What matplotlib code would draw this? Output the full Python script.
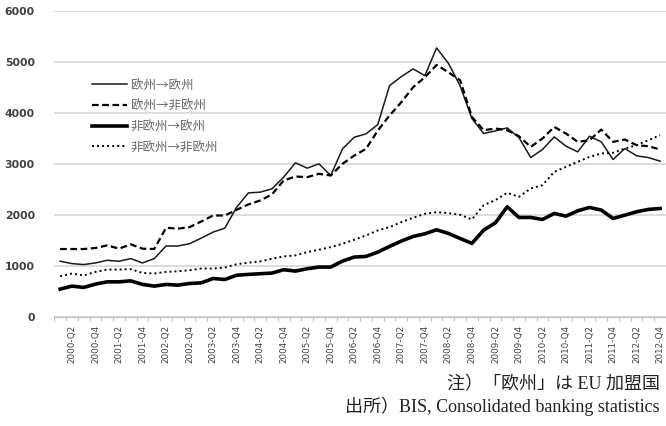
import numpy as np
import matplotlib
matplotlib.use('Agg')
import matplotlib.pyplot as plt

plt.rcParams['font.family'] = ['DejaVu Sans', 'Noto Sans CJK JP']

# quarters 2000-Q1 .. 2012-Q4
quarters = ['%d-Q%d' % (y, q) for y in range(2000, 2013) for q in range(1, 5)]

eu_eu = [1088, 1042, 1023, 1055, 1107, 1088, 1140, 1055, 1140, 1387, 1387, 1433, 1543,
         1660, 1738, 2148, 2430, 2444, 2510, 2739, 3020, 2915, 3000, 2771, 3294, 3523,
         3588, 3771, 4536, 4712, 4863, 4732, 5275, 4974, 4530, 3889, 3595, 3647, 3706,
         3516, 3124, 3281, 3529, 3346, 3235, 3542, 3431, 3085, 3301, 3157, 3124, 3052]
eu_noneu = [1328, 1328, 1328, 1348, 1400, 1335, 1420, 1335, 1328, 1746, 1727, 1758, 1869,
            1986, 1986, 2098, 2203, 2281, 2399, 2673, 2752, 2739, 2804, 2771, 3000, 3163,
            3294, 3654, 3948, 4209, 4503, 4699, 4941, 4797, 4641, 3922, 3660, 3693, 3660,
            3542, 3333, 3497, 3725, 3595, 3431, 3464, 3673, 3431, 3477, 3366, 3346, 3281]
noneu_eu = [541, 600, 574, 639, 684, 684, 703, 633, 600, 633, 619, 652, 664,
            750, 730, 814, 830, 843, 856, 922, 895, 941, 974, 974, 1092, 1170,
            1183, 1268, 1379, 1484, 1575, 1627, 1706, 1634, 1536, 1438, 1699, 1843, 2157,
            1948, 1948, 1908, 2026, 1974, 2078, 2144, 2092, 1928, 1993, 2059, 2105, 2124]
noneu_noneu = [795, 847, 809, 879, 925, 925, 932, 860, 847, 879, 892, 912, 945,
               945, 965, 1030, 1060, 1085, 1137, 1183, 1203, 1268, 1314, 1366, 1431, 1510,
               1595, 1693, 1758, 1856, 1941, 2020, 2052, 2033, 2000, 1908, 2190, 2288, 2431,
               2353, 2516, 2582, 2843, 2941, 3039, 3137, 3203, 3216, 3301, 3366, 3464, 3562]

labels = ['欧州→欧州', '欧州→非欧州', '非欧州→欧州', '非欧州→非欧州']

fig = plt.figure(figsize=(6.66, 4.26), dpi=100)
ax = fig.add_axes([0.0815, 0.2566, 0.9185, 0.7176])

x = np.arange(len(quarters))
ax.plot(x, eu_eu, color='#1a1a1a', lw=1.1, ls='-', label=labels[0])
ax.plot(x, eu_noneu, color='#000000', lw=1.6, ls=(0, (3, 1.6)), label=labels[1])
ax.plot(x, noneu_eu, color='#000000', lw=2.6, ls='-', label=labels[2])
ax.plot(x, noneu_noneu, color='#000000', lw=1.4, ls=(0, (1, 1.6)), label=labels[3])

ax.set_xlim(-0.5, len(quarters) - 0.5)
ax.set_ylim(0, 6000)
ax.set_yticks(range(0, 6001, 1000))
ax.yaxis.grid(True, color='#d9d9d9', lw=1.3)
ax.set_axisbelow(True)
ax.tick_params(axis='y', length=0, pad=14, labelsize=7.8, labelcolor='#404040')
for t in ax.get_yticklabels():
    t.set_fontweight('bold')

ax.set_xticks(x[1::2])
ax.set_xticklabels(quarters[1::2], rotation=90, fontsize=6.3, color='#404040')
ax.set_xticks(np.arange(-0.5, len(quarters), 1), minor=True)
ax.tick_params(axis='x', which='major', length=0, pad=6)
ax.tick_params(axis='x', which='minor', length=3, color='#bfbfbf', width=0.8)

for s in ['top', 'right', 'left']:
    ax.spines[s].set_visible(False)
ax.spines['bottom'].set_color('#bfbfbf')

leg = ax.legend(loc='upper left', bbox_to_anchor=(0.043, 0.816), frameon=False,
                handlelength=2.8, handletextpad=0.3, labelspacing=0.62,
                prop={'family': ['Noto Sans CJK JP', 'DejaVu Sans'], 'size': 9})
for t in leg.get_texts():
    t.set_color('#666666')

fam = ['Liberation Serif', 'Noto Sans CJK JP']
fig.text(0.991, 0.096, '注）「欧州」は EU 加盟国', ha='right', va='center',
         fontsize=13, family=fam, color='#222222')
fig.text(0.991, 0.047, '出所）BIS, Consolidated banking statistics', ha='right',
         va='center', fontsize=13, family=fam, color='#222222')

fig.savefig('out.png', dpi=100)
